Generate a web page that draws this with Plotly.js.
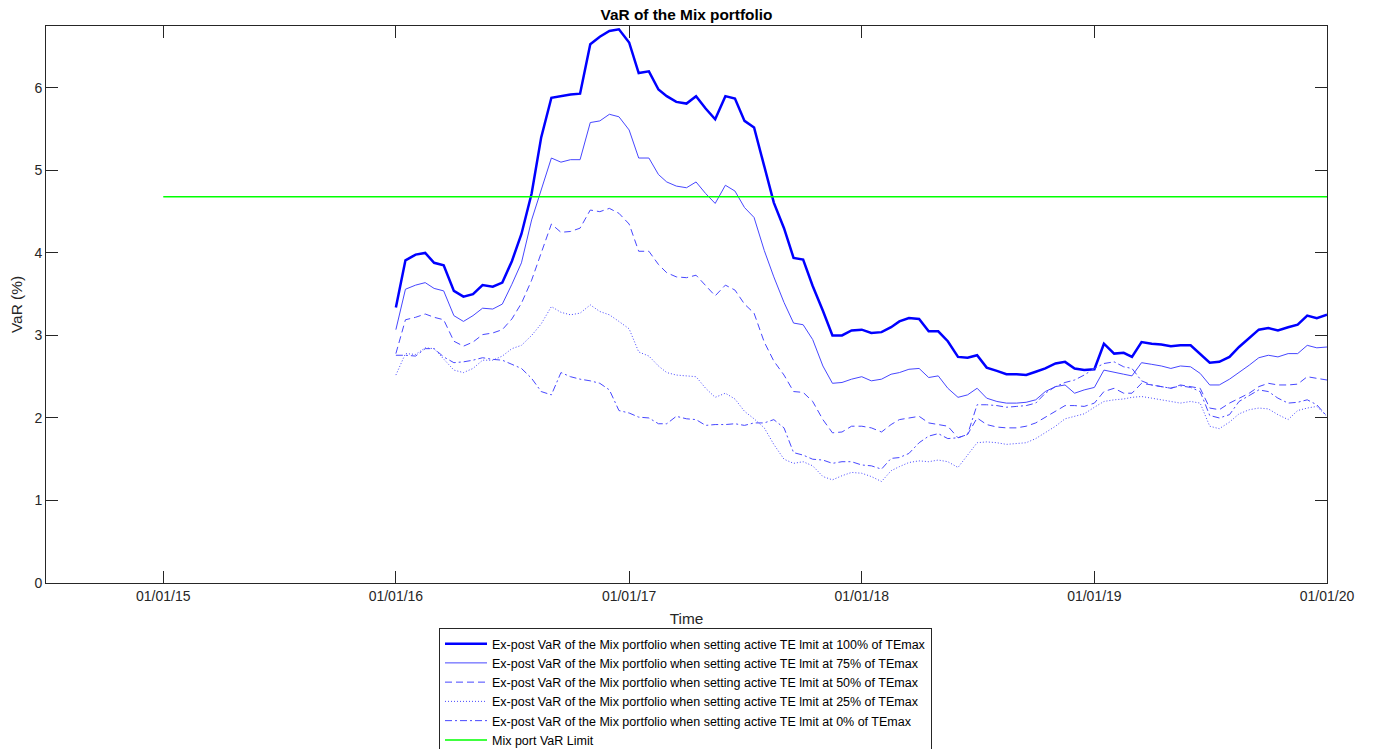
<!DOCTYPE html>
<html>
<head>
<meta charset="utf-8">
<script src="https://cdn.plot.ly/plotly-3.0.1.min.js"></script>
<style>html,body{margin:0;padding:0;background:#fff;}#chart{width:1373px;height:749px;}</style>
</head>
<body>
<div id="chart"></div>
<script>
const dates = [
'2016-01-01','2016-01-16','2016-02-01','2016-02-16','2016-03-01','2016-03-16','2016-04-01','2016-04-16','2016-05-01','2016-05-16','2016-06-01','2016-06-16',
'2016-07-01','2016-07-16','2016-08-01','2016-08-16','2016-09-01','2016-09-16','2016-10-01','2016-10-16','2016-11-01','2016-11-16','2016-12-01','2016-12-16',
'2017-01-01','2017-01-16','2017-02-01','2017-02-16','2017-03-01','2017-03-16','2017-04-01','2017-04-16','2017-05-01','2017-05-16','2017-06-01','2017-06-16',
'2017-07-01','2017-07-16','2017-08-01','2017-08-16','2017-09-01','2017-09-16','2017-10-01','2017-10-16','2017-11-01','2017-11-16','2017-12-01','2017-12-16',
'2018-01-01','2018-01-16','2018-02-01','2018-02-16','2018-03-01','2018-03-16','2018-04-01','2018-04-16','2018-05-01','2018-05-16','2018-06-01','2018-06-16',
'2018-07-01','2018-07-16','2018-08-01','2018-08-16','2018-09-01','2018-09-16','2018-10-01','2018-10-16','2018-11-01','2018-11-16','2018-12-01','2018-12-16',
'2019-01-01','2019-01-16','2019-02-01','2019-02-16','2019-03-01','2019-03-16','2019-04-01','2019-04-16','2019-05-01','2019-05-16','2019-06-01','2019-06-16',
'2019-07-01','2019-07-16','2019-08-01','2019-08-16','2019-09-01','2019-09-16','2019-10-01','2019-10-16','2019-11-01','2019-11-16','2019-12-01','2019-12-16',
'2020-01-01'];

const var100 = [3.34,3.91,3.98,4.00,3.88,3.85,3.54,3.47,3.50,3.61, 3.59,3.64,3.90,4.23,4.72,5.40,5.88,5.90,5.92,5.93,
 6.53,6.62,6.69,6.71,6.55,6.18,6.20,5.98,5.90,5.83, 5.81,5.90,5.75,5.62,5.90,5.87,5.60,5.52,5.05,4.61,
 4.30,3.94,3.92,3.60,3.30,3.00,3.00,3.06,3.07,3.03, 3.04,3.10,3.17,3.21,3.20,3.05,3.05,2.93,2.74,2.73,
 2.76,2.61,2.57,2.53,2.53,2.52,2.56,2.60,2.66,2.68, 2.60,2.58,2.59,2.90,2.78,2.79,2.74,2.92,2.90,2.89,
 2.87,2.88,2.88,2.78,2.67,2.68,2.74,2.86,2.97,3.07, 3.09,3.06,3.10,3.13,3.24,3.21,3.25];

const var75 = [3.07,3.56,3.61,3.64,3.57,3.54,3.24,3.17,3.24,3.33, 3.32,3.38,3.62,3.88,4.40,4.76,5.15,5.10,5.13,5.13,
 5.58,5.60,5.68,5.65,5.49,5.15,5.15,4.95,4.86,4.81, 4.79,4.86,4.72,4.60,4.82,4.75,4.55,4.43,4.03,3.71,
 3.40,3.15,3.13,2.95,2.63,2.42,2.43,2.47,2.50,2.45, 2.47,2.53,2.55,2.59,2.60,2.49,2.51,2.36,2.25,2.28,
 2.36,2.24,2.20,2.18,2.18,2.19,2.22,2.32,2.38,2.40, 2.30,2.34,2.37,2.58,2.55,2.53,2.51,2.67,2.65,2.63,
 2.60,2.63,2.62,2.54,2.40,2.40,2.47,2.55,2.64,2.73, 2.76,2.74,2.78,2.78,2.88,2.85,2.86];

const var50 = [2.78,3.19,3.22,3.26,3.22,3.19,2.93,2.87,2.92,3.01, 3.03,3.07,3.20,3.39,3.67,4.01,4.35,4.25,4.26,4.30,
 4.52,4.50,4.54,4.48,4.35,4.02,4.02,3.86,3.76,3.71, 3.70,3.73,3.60,3.48,3.61,3.55,3.38,3.27,2.92,2.69,
 2.52,2.32,2.31,2.20,1.98,1.82,1.83,1.90,1.90,1.88, 1.83,1.92,1.98,2.00,2.02,1.94,1.92,1.90,1.76,1.80,
 2.00,1.92,1.89,1.88,1.88,1.90,1.94,2.01,2.08,2.15, 2.15,2.14,2.18,2.32,2.36,2.30,2.30,2.42,2.40,2.38,
 2.36,2.40,2.38,2.36,2.12,2.10,2.18,2.24,2.30,2.38, 2.42,2.40,2.40,2.41,2.50,2.48,2.46];

const var25 = [2.52,2.78,2.77,2.85,2.84,2.71,2.58,2.55,2.60,2.70, 2.70,2.75,2.84,2.88,3.00,3.14,3.35,3.28,3.25,3.27,
 3.37,3.29,3.25,3.17,3.08,2.80,2.75,2.63,2.55,2.52, 2.51,2.50,2.36,2.25,2.30,2.23,2.08,1.99,1.88,1.68,
 1.50,1.45,1.47,1.42,1.29,1.25,1.30,1.34,1.33,1.29, 1.23,1.36,1.41,1.46,1.48,1.47,1.49,1.47,1.40,1.55,
 1.70,1.71,1.70,1.68,1.69,1.70,1.75,1.82,1.90,1.99, 2.02,2.05,2.13,2.20,2.22,2.23,2.25,2.26,2.24,2.22,
 2.20,2.18,2.20,2.18,1.90,1.87,1.95,2.05,2.10,2.12, 2.11,2.04,1.98,2.09,2.12,2.14,2.02];

const var0 = [2.76,2.76,2.75,2.84,2.84,2.74,2.67,2.68,2.70,2.73, 2.71,2.70,2.65,2.60,2.48,2.32,2.28,2.55,2.50,2.47,
 2.45,2.42,2.34,2.09,2.06,2.01,2.00,1.93,1.93,2.02, 1.99,1.98,1.91,1.92,1.92,1.93,1.91,1.94,1.94,1.98,
 1.88,1.58,1.55,1.50,1.49,1.45,1.47,1.47,1.43,1.42, 1.38,1.51,1.52,1.57,1.70,1.78,1.81,1.75,1.76,1.80,
 2.16,2.16,2.15,2.13,2.14,2.15,2.18,2.30,2.38,2.43, 2.46,2.52,2.60,2.66,2.68,2.62,2.60,2.45,2.40,2.38,
 2.36,2.39,2.37,2.32,2.03,2.00,2.04,2.20,2.27,2.34, 2.32,2.24,2.18,2.19,2.22,2.16,2.02];

const limitDates = ['2015-01-01','2020-01-01'];
const limitValues = [4.68, 4.68];

const seriesNames = [
 'Ex-post VaR of the Mix portfolio when setting active TE lmit at 100% of TEmax',
 'Ex-post VaR of the Mix portfolio when setting active TE lmit at 75% of TEmax',
 'Ex-post VaR of the Mix portfolio when setting active TE lmit at 50% of TEmax',
 'Ex-post VaR of the Mix portfolio when setting active TE lmit at 25% of TEmax',
 'Ex-post VaR of the Mix portfolio when setting active TE lmit at 0% of TEmax',
 'Mix port VaR Limit'];

const xTickVals = ['2015-01-01','2016-01-01','2017-01-01','2018-01-01','2019-01-01','2020-01-01'];
const xTickText = ['01/01/15','01/01/16','01/01/17','01/01/18','01/01/19','01/01/20'];
const yTickVals = [0,1,2,3,4,5,6];

const FONT = 'Liberation Sans, Arial, Helvetica, sans-serif';
const thin = '#4747ff';

const traces = [
 {x: dates, y: var100, name: seriesNames[0], mode:'lines', line:{color:'#0000ff', width:2.5}},
 {x: dates, y: var75, name: seriesNames[1], mode:'lines', line:{color:thin, width:1}},
 {x: dates, y: var50, name: seriesNames[2], mode:'lines', line:{color:thin, width:1, dash:'7px,4px'}},
 {x: dates, y: var25, name: seriesNames[3], mode:'lines', line:{color:thin, width:1, dash:'1px,2px'}},
 {x: dates, y: var0, name: seriesNames[4], mode:'lines', line:{color:thin, width:1, dash:'7px,3px,2px,3px'}},
 {x: limitDates, y: limitValues, name: seriesNames[5], mode:'lines', line:{color:'#00ff00', width:1.5}}
];

const axisCommon = {
 ticks:'inside', ticklen:12, tickwidth:1, tickcolor:'#262626',
 showline:true, linecolor:'#262626', linewidth:1, mirror:'ticks',
 showgrid:false, zeroline:false, tickfont:{size:14, color:'#262626'}
};

const layout = {
 width:1373, height:749,
 margin:{l:46, r:46, t:26, b:166, autoexpand:false},
 paper_bgcolor:'#ffffff', plot_bgcolor:'#ffffff',
 font:{family:FONT, color:'#262626'},
 title:{text:'<b>VaR of the Mix portfolio</b>', font:{size:15.4, color:'#000000'},
        x:0.5, xref:'paper', xanchor:'center', y:1-15/749, yref:'container', yanchor:'middle'},
 xaxis: Object.assign({}, axisCommon, {
   type:'date', range:['2014-07-01','2020-01-01'],
   tickmode:'array', tickvals:xTickVals, ticktext:xTickText,
   title:{text:'Time', font:{size:15.4, color:'#262626'}, standoff:10}
 }),
 yaxis: Object.assign({}, axisCommon, {
   range:[0,6.75], tickmode:'array', tickvals:yTickVals,
   title:{text:'VaR (%)', font:{size:15.4, color:'#262626'}, standoff:8}
 }),
 showlegend:true,
 legend:{x:(439-46)/1281, xanchor:'left', y:-(628-583)/557, yanchor:'top',
   bordercolor:'#262626', borderwidth:1, bgcolor:'#ffffff', itemwidth:42,
   font:{size:12.5, color:'#000000'}, tracegroupgap:0},
 hovermode:false
};

Plotly.newPlot('chart', traces, layout, {displayModeBar:false, staticPlot:true});
</script>
</body>
</html>
